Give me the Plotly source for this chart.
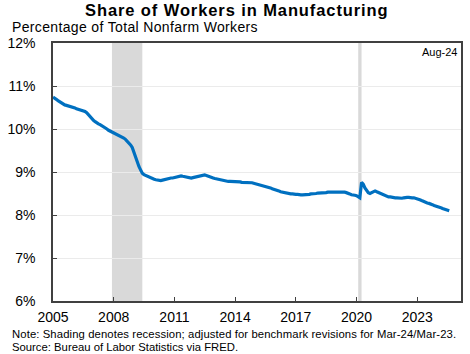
import plotly.graph_objects as go

# Monthly share of manufacturing in total nonfarm employment (%), Jan-2005 .. Aug-2024
share_by_year = {
    2005: [10.74, 10.72, 10.69, 10.66, 10.63, 10.61, 10.58, 10.56, 10.55, 10.54, 10.52, 10.51],
    2006: [10.50, 10.49, 10.47, 10.46, 10.44, 10.43, 10.42, 10.41, 10.38, 10.33, 10.28, 10.23],
    2007: [10.20, 10.17, 10.14, 10.12, 10.10, 10.08, 10.06, 10.03, 10.00, 9.97, 9.95, 9.93],
    2008: [9.92, 9.90, 9.88, 9.86, 9.84, 9.82, 9.79, 9.76, 9.72, 9.68, 9.63, 9.57],
    2009: [9.45, 9.32, 9.22, 9.13, 9.05, 8.97, 8.94, 8.92, 8.90, 8.87, 8.85, 8.84],
    2010: [8.83, 8.82, 8.81, 8.81, 8.80, 8.81, 8.82, 8.84, 8.85, 8.85, 8.86, 8.86],
    2011: [8.87, 8.88, 8.89, 8.90, 8.91, 8.90, 8.89, 8.88, 8.87, 8.86, 8.86, 8.87],
    2012: [8.88, 8.89, 8.90, 8.91, 8.92, 8.92, 8.93, 8.92, 8.90, 8.89, 8.87, 8.86],
    2013: [8.85, 8.84, 8.83, 8.82, 8.81, 8.80, 8.79, 8.78, 8.78, 8.78, 8.78, 8.77],
    2014: [8.77, 8.77, 8.77, 8.77, 8.76, 8.76, 8.76, 8.76, 8.75, 8.75, 8.75, 8.74],
    2015: [8.73, 8.72, 8.71, 8.70, 8.69, 8.68, 8.67, 8.66, 8.64, 8.63, 8.61, 8.60],
    2016: [8.59, 8.57, 8.56, 8.54, 8.53, 8.52, 8.51, 8.50, 8.50, 8.49, 8.49, 8.48],
    2017: [8.48, 8.48, 8.47, 8.47, 8.47, 8.47, 8.47, 8.48, 8.48, 8.49, 8.49, 8.50],
    2018: [8.50, 8.51, 8.51, 8.51, 8.52, 8.52, 8.52, 8.53, 8.53, 8.53, 8.54, 8.54],
    2019: [8.54, 8.54, 8.54, 8.54, 8.54, 8.53, 8.52, 8.51, 8.49, 8.47, 8.47, 8.46],
    2020: [8.45, 8.43, 8.40, 8.76, 8.72, 8.63, 8.57, 8.52, 8.50, 8.52, 8.55, 8.56],
    2021: [8.54, 8.52, 8.50, 8.48, 8.46, 8.44, 8.43, 8.42, 8.42, 8.41, 8.41, 8.40],
    2022: [8.40, 8.39, 8.39, 8.39, 8.40, 8.41, 8.41, 8.41, 8.40, 8.40, 8.40, 8.39],
    2023: [8.38, 8.37, 8.35, 8.33, 8.31, 8.30, 8.28, 8.27, 8.26, 8.24, 8.22, 8.21],
    2024: [8.19, 8.18, 8.17, 8.15, 8.14, 8.13, 8.11, 8.10],
}

dates = []
values = []
for yr, vals in share_by_year.items():
    for m, v in enumerate(vals, start=1):
        dates.append(f"{yr}-{m:02d}-01")
        values.append(v)

recessions = [("2007-12-01", "2009-06-01"), ("2020-02-01", "2020-04-01")]
tick_years = [2005, 2008, 2011, 2014, 2017, 2020, 2023]
y_ticks = [6, 7, 8, 9, 10, 11, 12]

FONT = "Liberation Sans, Arial, sans-serif"
AXIS_COLOR = "#404040"


def spaced(text, px):
    return f'<span style="letter-spacing:{px}px">{text}</span>'


fig = go.Figure()
fig.add_trace(go.Scatter(
    x=dates, y=values, mode="lines",
    line=dict(color="#0070C0", width=3.2),
    hoverinfo="skip", showlegend=False,
))

for start, end in recessions:
    fig.add_shape(type="rect", xref="x", yref="paper", x0=start, x1=end, y0=0, y1=1,
                  fillcolor="#d9d9d9", line_width=0, layer="below")

fig.update_layout(
    width=470, height=354,
    margin=dict(l=47, r=7, t=43, b=53),
    paper_bgcolor="white", plot_bgcolor="white",
    font=dict(family=FONT, color="black", size=14),
    annotations=[
        dict(text="<b>" + spaced("Share of Workers in Manufacturing", 0.9) + "</b>",
             xref="paper", yref="paper", x=(234.5 - 47) / 416, y=1.128,
             xanchor="center", yanchor="middle", showarrow=False,
             font=dict(size=16.5)),
        dict(text=spaced("Percentage of Total Nonfarm Workers", 0.35), xref="paper", yref="paper",
             x=-0.106, y=1.062, xanchor="left", yanchor="middle", showarrow=False,
             font=dict(size=14)),
        dict(text="Aug-24", xref="paper", yref="paper", x=0.995, y=0.965,
             xanchor="right", yanchor="middle", showarrow=False, font=dict(size=11)),
        dict(text=spaced("Note: Shading denotes recession; adjusted for benchmark revisions for Mar-24/Mar-23.", 0.1),
             xref="paper", yref="paper", x=-0.106, y=-0.128, xanchor="left", yanchor="middle",
             showarrow=False, font=dict(size=11.3)),
        dict(text="Source: Bureau of Labor Statistics via FRED.",
             xref="paper", yref="paper", x=-0.106, y=-0.178, xanchor="left", yanchor="middle",
             showarrow=False, font=dict(size=11.3)),
    ],
    xaxis=dict(
        type="date", range=["2005-01-01", "2025-03-01"],
        tickvals=[f"{y}-01-01" for y in tick_years], ticktext=[str(y) for y in tick_years],
        ticks="inside", ticklen=4, tickcolor=AXIS_COLOR, tickwidth=1,
        showline=True, linecolor=AXIS_COLOR, linewidth=1.5, mirror=True,
        showgrid=False, zeroline=False, ticklabelstandoff=2,
        tickfont=dict(size=14),
    ),
    yaxis=dict(
        range=[6, 12], tickvals=y_ticks, ticktext=[f"{v}%" for v in y_ticks],
        ticks="inside", ticklen=4, tickcolor=AXIS_COLOR, tickwidth=1,
        showline=True, linecolor=AXIS_COLOR, linewidth=1.5, mirror=True,
        showgrid=True, gridcolor="#ebebeb", gridwidth=1, zeroline=False,
        ticklabelstandoff=13, tickfont=dict(size=14),
    ),
)

fig.write_html("out.html")
